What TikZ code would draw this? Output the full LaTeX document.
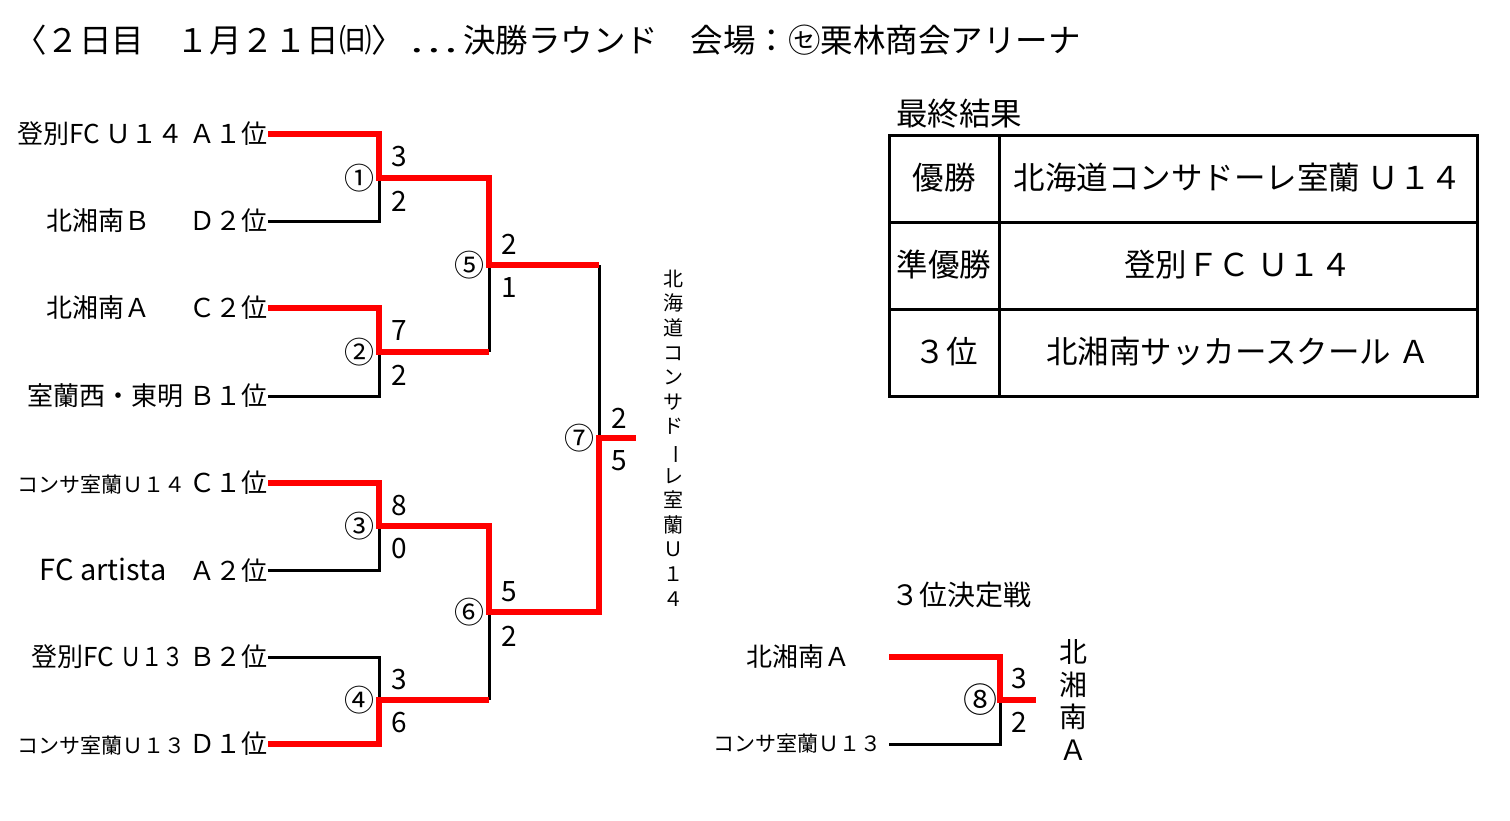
\documentclass[tikz,border=0pt]{standalone}
\usepackage{fontspec}
\setmainfont{Noto Sans CJK JP}
\newcommand\smallteam{\fontsize{21}{24}\selectfont}

\begin{document}
\begin{tikzpicture}[x=1pt, y=-1pt,
  team/.style={anchor=east, inner sep=0pt, font=\fontsize{26}{30}\selectfont},
  game/.style={inner sep=0pt, font=\fontsize{30}{32}\selectfont},
  score/.style={inner sep=0pt, font=\fontsize{28}{30}\selectfont},
  cell/.style={inner sep=0pt, font=\fontsize{31.5}{36}\selectfont},
  win/.style={draw=red, line width=6pt},
  lose/.style={draw=black, line width=3pt}]
          \useasboundingbox (0, 0) rectangle (1510, 820);
          \node (title) [anchor=west, inner sep=0pt, font=\fontsize{32.5}{36}\selectfont] at (14, 40) {〈２日目　１月２１日㈰〉\,\scalebox{1.4}[1]{…}\,決勝ラウンド　会場：㋝栗林商会アリーナ};
          % teams
          \node[team] (T1) at (268, 134) {登別FC Ｕ１４ Ａ１位};
          \node[team] (T2) at (268, 221) {北湘南Ｂ\hspace{1.5em}Ｄ２位};
          \node[team] (T3) at (268, 308) {北湘南Ａ\hspace{1.5em}Ｃ２位};
          \node[team] (T4) at (268, 396) {室蘭西・東明 Ｂ１位};
          \node[team] (T5) at (268, 483) {{\smallteam コンサ室蘭Ｕ１４}\,Ｃ１位};
          \node[team] (T6) at (268, 570) {{\fontsize{29}{30}\selectfont FC artista}\hspace{0.9em}Ａ２位};
          \node[team] (T7) at (268, 657) {登別FC \scalebox{0.82}[1]{Ｕ１３} Ｂ２位};
          \node[team] (T8) at (268, 744) {{\smallteam コンサ室蘭Ｕ１３}\,Ｄ１位};
          \coordinate (M1) at (379, 178);
          \coordinate (M2) at (379, 352);
          \coordinate (M3) at (379, 526);
          \coordinate (M4) at (379, 700);
          \coordinate (M5) at (489, 265);
          \coordinate (M6) at (489, 612);
          \coordinate (M7) at (599, 438);
          \coordinate (W) at (636, 438);
          % losers
          \draw[lose] (T2.east) -| (M1);
          \draw[lose] (T4.east) -| (M2);
          \draw[lose] (T6.east) -| (M3);
          \draw[lose] (T7.east) -| (M4);
          \draw[lose] (M2 -| M5) -- (M5);
          \draw[lose] (M4 -| M6) -- (M6);
          \draw[lose] (M5 -| M7) -- (M7);
          % winners
          \draw[win] (T1.east) -| (M1) -| (M5) -- (M5 -| M7);
          \draw[win] (T3.east) -| (M2) -- (M2 -| M5);
          \draw[win] (T5.east) -| (M3) -| (M6) -| (M7) -- (W);
          \draw[win] (T8.east) -| (M4) -- (M4 -| M6);
          % games and scores
          \node[game] (G1) at (359, 178) {①};
          \node[game] (G2) at (359, 352) {②};
          \node[game] (G3) at (359, 526) {③};
          \node[game] (G4) at (359, 700) {④};
          \node[game] (G5) at (469, 265) {⑤};
          \node[game] (G6) at (469, 612) {⑥};
          \node[game] (G7) at (579, 438) {⑦};
          \node[score] (S1a) at (399, 157) {3};
          \node[score] (S1b) at (399, 201) {2};
          \node[score] (S2a) at (399, 331) {7};
          \node[score] (S2b) at (399, 375) {2};
          \node[score] (S3a) at (399, 506) {8};
          \node[score] (S3b) at (399, 549) {0};
          \node[score] (S4a) at (399, 680) {3};
          \node[score] (S4b) at (399, 723) {6};
          \node[score] (S5a) at (509, 244) {2};
          \node[score] (S5b) at (509, 288) {1};
          \node[score] (S6a) at (509, 592) {5};
          \node[score] (S6b) at (509, 636) {2};
          \node[score] (S7a) at (619, 418) {2};
          \node[score] (S7b) at (619, 461) {5};
          \node (champ) [inner sep=0pt, align=center, font=\fontsize{20}{24.6}\selectfont] at (673, 438) {北\\海\\道\\コ\\ン\\サ\\ド\\\rotatebox[origin=c]{-90}{ー}\\レ\\室\\蘭\\Ｕ\\１\\４};
          % final results
          \node (final) [anchor=west, cell] at (896, 114) {最終結果};
          \draw[lose] (889, 135) rectangle (1477, 396);
          \draw[lose] (999, 135) -- (999, 396);
          \draw[lose] (889, 222) -- (1477, 222);
          \draw[lose] (889, 309) -- (1477, 309);
          \node[cell] (R1) at (944, 178) {優勝};
          \node[cell] (R2) at (944, 265) {準優勝};
          \node[cell] (R3) at (946, 352) {３位};
          \node[cell] (N1) at (1238, 178) {北海道コンサドーレ室蘭 Ｕ１４};
          \node[cell] (N2) at (1238, 265) {登別ＦＣ Ｕ１４};
          \node[cell] (N3) at (1238, 352) {北湘南サッカースクール Ａ};
          % third place
          \node (third) [anchor=west, inner sep=0pt, font=\fontsize{28}{32}\selectfont] at (891, 595) {３位決定戦};
          \node[team] (T9) at (851, 657) {北湘南Ａ};
          \node[team, font=\smallteam] (T10) at (882, 744) {コンサ室蘭Ｕ１３};
          \coordinate (M8) at (1000, 700);
          \coordinate (W8) at (1036, 700);
          \draw[lose] ([xshift=7pt]T10.east) -| (M8);
          \draw[win] ([xshift=38pt]T9.east) -| (M8) -- (W8);
          \node[game, font=\fontsize{34}{36}\selectfont] (G8) at (980, 700) {⑧};
          \node[score] (S8a) at (1019, 679) {3};
          \node[score] (S8b) at (1019, 722) {2};
          \node (bronze) [inner sep=0pt, align=center, font=\fontsize{28}{32.6}\selectfont] at (1073, 700) {北\\湘\\南\\Ａ};
        \end{tikzpicture}
\end{document}
